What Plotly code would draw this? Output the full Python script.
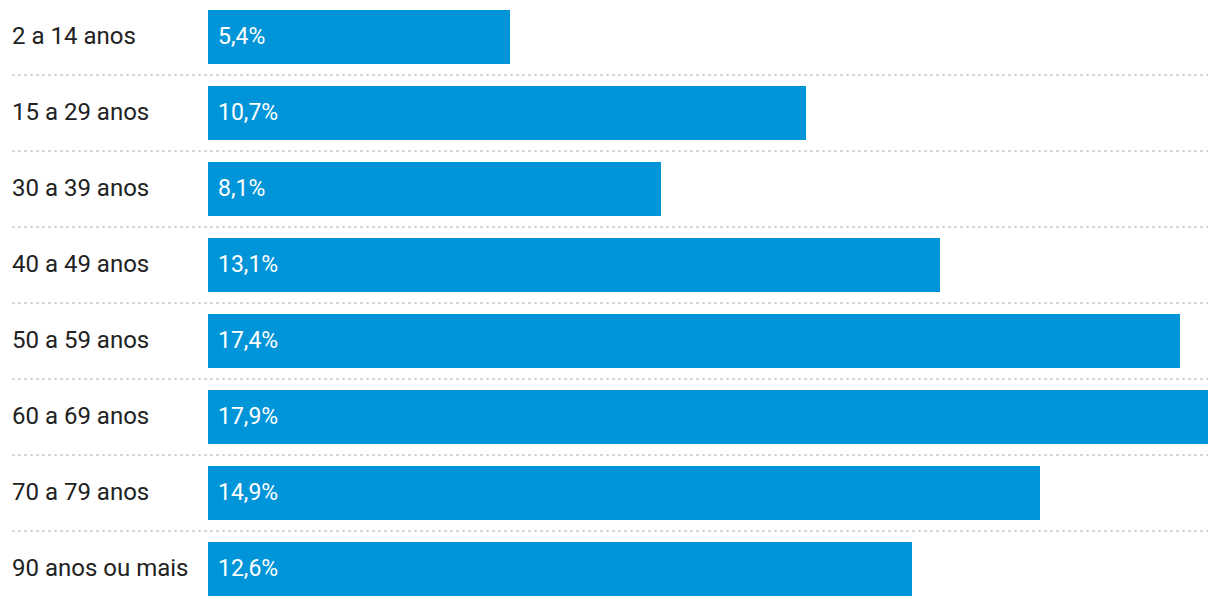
import plotly.graph_objects as go

categories = ["2 a 14 anos", "15 a 29 anos", "30 a 39 anos", "40 a 49 anos",
              "50 a 59 anos", "60 a 69 anos", "70 a 79 anos", "90 anos ou mais"]
values = [5.4, 10.7, 8.1, 13.1, 17.4, 17.9, 14.9, 12.6]
value_labels = ["5,4%", "10,7%", "8,1%", "13,1%", "17,4%", "17,9%", "14,9%", "12,6%"]

BAR_COLOR = "#0094d8"
FONT = "Roboto"

ypos = list(range(len(categories)))

fig = go.Figure()
fig.add_trace(go.Bar(
    x=values, y=ypos, orientation="h",
    marker=dict(color=BAR_COLOR, line=dict(width=0)),
    width=54 / 76, hoverinfo="skip",
))

annotations = []
for i, (c, lab) in enumerate(zip(categories, value_labels)):
    annotations.append(dict(
        x=-0.198, xref="paper", y=i, yref="y", text=c, showarrow=False,
        xanchor="left", yanchor="middle", yshift=1,
        font=dict(family=FONT, size=24, color="#222222"),
    ))
    annotations.append(dict(
        x=0, xref="x", y=i, yref="y", text=lab, showarrow=False,
        xanchor="left", yanchor="middle", xshift=8, yshift=1,
        font=dict(family=FONT, size=23, color="#ffffff"),
    ))

shapes = []
for i in range(len(categories) - 1):
    shapes.append(dict(
        type="line", xref="paper", x0=-0.196, x1=1, yref="y", y0=i + 0.5, y1=i + 0.5,
        line=dict(color="#cccccc", width=1.5, dash="dot"), layer="below",
    ))

fig.update_layout(
    width=1220, height=606,
    margin=dict(l=200, r=20, t=0, b=0),
    paper_bgcolor="white", plot_bgcolor="white",
    showlegend=False,
    xaxis=dict(range=[0, max(values)], visible=False, fixedrange=True),
    yaxis=dict(range=[7 + 45 / 76, -29 / 76], visible=False, fixedrange=True),
    annotations=annotations, shapes=shapes,
    bargap=0,
)

fig.write_html("out.html", config={"displayModeBar": False})
